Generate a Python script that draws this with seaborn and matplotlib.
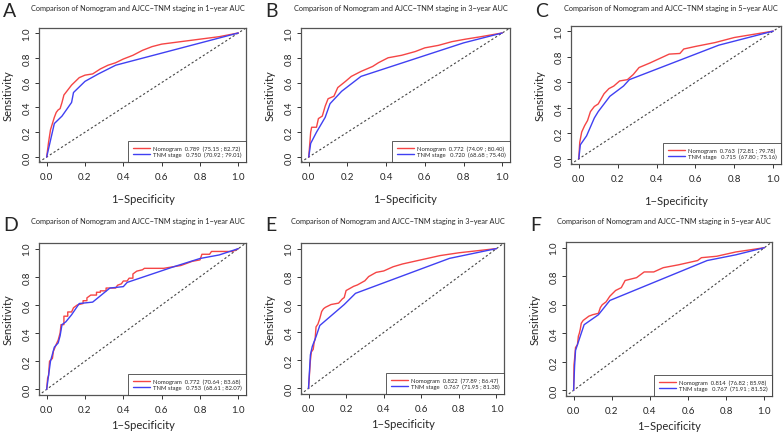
import pandas as pd
import matplotlib
matplotlib.use("Agg")
import matplotlib.pyplot as plt
import seaborn as sns
from matplotlib.lines import Line2D

# --- data: ROC points ---
# A: 1-year (training)
a_nomo_fpr = [0, 0.01, 0.02, 0.03, 0.04, 0.05, 0.06, 0.07, 0.08, 0.09, 0.11, 0.13, 0.15, 0.17, 0.20, 0.24,
              0.28, 0.32, 0.36, 0.40, 0.45, 0.50, 0.55, 0.60, 0.70, 0.80, 0.90, 1.0]
a_nomo_tpr = [0, 0.12, 0.22, 0.27, 0.32, 0.36, 0.38, 0.39, 0.44, 0.50, 0.54, 0.58, 0.61, 0.64, 0.66, 0.67,
              0.71, 0.74, 0.76, 0.79, 0.82, 0.86, 0.89, 0.91, 0.93, 0.95, 0.97, 1.0]
a_tnm_fpr = [0, 0.04, 0.08, 0.13, 0.14, 0.20, 0.27, 0.36, 1.0]
a_tnm_tpr = [0, 0.27, 0.33, 0.44, 0.52, 0.61, 0.67, 0.74, 1.0]

# B: 3-year (training)
b_nomo_fpr = [0, 0.01, 0.015, 0.04, 0.05, 0.07, 0.085, 0.10, 0.13, 0.15, 0.19, 0.22, 0.27, 0.33, 0.36, 0.41,
              0.48, 0.55, 0.60, 0.67, 0.74, 0.81, 0.89, 1.0]
b_nomo_tpr = [0, 0.20, 0.24, 0.24, 0.31, 0.33, 0.41, 0.47, 0.49, 0.56, 0.61, 0.65, 0.69, 0.73, 0.76, 0.80,
              0.82, 0.85, 0.88, 0.90, 0.93, 0.95, 0.97, 1.0]
b_tnm_fpr = [0, 0.01, 0.04, 0.085, 0.11, 0.17, 0.27, 0.80, 1.0]
b_tnm_tpr = [0, 0.11, 0.20, 0.32, 0.43, 0.53, 0.65, 0.92, 1.0]

# C: 5-year (training)
c_nomo_fpr = [0, 0.005, 0.015, 0.03, 0.045, 0.06, 0.08, 0.10, 0.13, 0.155, 0.18, 0.21, 0.25, 0.28, 0.31,
              0.365, 0.415, 0.465, 0.52, 0.54, 0.60, 0.70, 0.80, 0.90, 1.0]
c_nomo_tpr = [0, 0.13, 0.21, 0.26, 0.30, 0.37, 0.41, 0.43, 0.51, 0.55, 0.57, 0.61, 0.62, 0.66, 0.715,
              0.75, 0.785, 0.82, 0.825, 0.86, 0.88, 0.91, 0.95, 0.975, 1.0]
c_tnm_fpr = [0, 0.008, 0.04, 0.08, 0.10, 0.16, 0.23, 0.26, 0.72, 1.0]
c_tnm_tpr = [0, 0.11, 0.18, 0.32, 0.37, 0.49, 0.57, 0.62, 0.89, 1.0]

# D: 1-year (validation)
d_nomo_fpr = [0, 0.005, 0.01, 0.015, 0.03, 0.035, 0.05, 0.06, 0.07, 0.075, 0.09, 0.09, 0.11, 0.11, 0.13,
              0.14, 0.16, 0.19, 0.19, 0.21, 0.21, 0.23, 0.26, 0.26, 0.28, 0.28, 0.31, 0.31, 0.36, 0.37,
              0.39, 0.40, 0.42, 0.43, 0.45, 0.45, 0.47, 0.50, 0.51, 0.61, 0.70, 0.76, 0.80, 0.81, 0.85,
              0.86, 0.97, 1.0]
d_nomo_tpr = [0, 0.08, 0.10, 0.20, 0.22, 0.27, 0.32, 0.35, 0.40, 0.46, 0.46, 0.52, 0.52, 0.55, 0.55,
              0.58, 0.60, 0.61, 0.63, 0.63, 0.65, 0.67, 0.67, 0.69, 0.69, 0.70, 0.70, 0.72, 0.72, 0.74,
              0.75, 0.77, 0.77, 0.79, 0.79, 0.82, 0.84, 0.85, 0.86, 0.86, 0.88, 0.91, 0.92, 0.96, 0.96,
              0.98, 0.98, 1.0]
d_tnm_fpr = [0, 0.01, 0.02, 0.03, 0.04, 0.06, 0.07, 0.08, 0.10, 0.13, 0.17, 0.24, 0.33, 0.40, 0.42, 0.66,
             0.80, 0.90, 1.0]
d_tnm_tpr = [0, 0.10, 0.20, 0.25, 0.30, 0.33, 0.38, 0.46, 0.48, 0.53, 0.61, 0.62, 0.72, 0.73, 0.76, 0.87,
             0.93, 0.955, 1.0]

# E: 3-year (validation)
e_nomo_fpr = [0, 0.005, 0.01, 0.015, 0.025, 0.03, 0.035, 0.04, 0.05, 0.06, 0.07, 0.08, 0.09, 0.12, 0.16,
              0.18, 0.19, 0.20, 0.24, 0.26, 0.30, 0.32, 0.36, 0.40, 0.45, 0.50, 0.60, 0.70, 0.80, 0.90, 1.0]
e_nomo_tpr = [0, 0.10, 0.20, 0.26, 0.28, 0.33, 0.35, 0.44, 0.46, 0.50, 0.55, 0.57, 0.58, 0.60, 0.61,
              0.64, 0.65, 0.70, 0.73, 0.74, 0.77, 0.80, 0.83, 0.84, 0.87, 0.89, 0.92, 0.95, 0.97, 0.985, 1.0]
e_tnm_fpr = [0, 0.005, 0.01, 0.02, 0.04, 0.06, 0.19, 0.25, 0.75, 1.0]
e_tnm_tpr = [0, 0.12, 0.24, 0.30, 0.37, 0.45, 0.60, 0.68, 0.93, 1.0]

# F: 5-year (validation)
f_nomo_fpr = [0, 0.002, 0.005, 0.01, 0.02, 0.025, 0.03, 0.035, 0.04, 0.05, 0.07, 0.08, 0.10, 0.13, 0.14,
              0.15, 0.17, 0.19, 0.22, 0.25, 0.27, 0.30, 0.33, 0.37, 0.42, 0.47, 0.55, 0.65, 0.67, 0.75,
              0.85, 1.0]
f_nomo_tpr = [0, 0.18, 0.22, 0.30, 0.32, 0.38, 0.40, 0.43, 0.47, 0.49, 0.51, 0.52, 0.53, 0.54, 0.58,
              0.60, 0.62, 0.66, 0.70, 0.72, 0.77, 0.78, 0.79, 0.83, 0.83, 0.86, 0.88, 0.91, 0.93, 0.94,
              0.97, 1.0]
f_tnm_fpr = [0, 0.005, 0.01, 0.02, 0.04, 0.055, 0.13, 0.19, 0.70, 0.85, 1.0]
f_tnm_tpr = [0, 0.17, 0.28, 0.32, 0.40, 0.46, 0.53, 0.63, 0.91, 0.95, 1.0]

panel_letters = ["A", "B", "C", "D", "E", "F"]
panel_years = ["1", "3", "5", "1", "3", "5"]
nomo_auc = ["0.789  (75.15 ; 82.72)", "0.772  (74.09 ; 80.40)", "0.763  (72.81 ; 79.78)",
            "0.772  (70.64 ; 83.68)", "0.822  (77.89 ; 86.47)", "0.814  (76.82 ; 85.98)"]
tnm_auc = ["0.750  (70.92 ; 79.01)", "0.720  (68.68 ; 75.40)", "0.715  (67.80 ; 75.16)",
           "0.753  (68.61 ; 82.07)", "0.767  (71.95 ; 81.38)", "0.767  (71.91 ; 81.52)"]

nomo_curves = [(a_nomo_fpr, a_nomo_tpr), (b_nomo_fpr, b_nomo_tpr), (c_nomo_fpr, c_nomo_tpr),
               (d_nomo_fpr, d_nomo_tpr), (e_nomo_fpr, e_nomo_tpr), (f_nomo_fpr, f_nomo_tpr)]
tnm_curves = [(a_tnm_fpr, a_tnm_tpr), (b_tnm_fpr, b_tnm_tpr), (c_tnm_fpr, c_tnm_tpr),
              (d_tnm_fpr, d_tnm_tpr), (e_tnm_fpr, e_tnm_tpr), (f_tnm_fpr, f_tnm_tpr)]

# axes boxes in pixels (left, right, top, bottom)
boxes = [(39, 246, 29, 163), (301, 510, 29, 163), (571, 781, 27, 165),
         (39, 246, 244, 396), (301, 504, 244, 395), (566, 772, 243, 397)]
title_y = [8, 8, 8, 222, 222, 222]
letter_y = [3, 3, 3, 217, 217, 217]

RED = "#f54545"
BLUE = "#4040f2"
W, H = 784, 435

sns.set_style("white")
plt.rcParams['font.family'] = ['Lato', 'DejaVu Sans']

fig = plt.figure(figsize=(W / 100, H / 100), dpi=100)

for i in range(6):
    l, r, t, b = boxes[i]
    ax = fig.add_axes([l / W, 1 - b / H, (r - l) / W, (b - t) / H])

    df = pd.concat([
        pd.DataFrame({"fpr": nomo_curves[i][0], "tpr": nomo_curves[i][1], "model": "Nomogram"}),
        pd.DataFrame({"fpr": tnm_curves[i][0], "tpr": tnm_curves[i][1], "model": "TNM stage"}),
    ])
    ax.plot([-0.1, 1.1], [-0.1, 1.1], ls=(0, (2, 2)), color="#444444", lw=0.8)
    sns.lineplot(data=df, x="fpr", y="tpr", hue="model", palette=[RED, BLUE],
                 sort=False, estimator=None, lw=1.0, ax=ax, legend=False)

    ax.set_xlim(-0.04, 1.04)
    ax.set_ylim(-0.04, 1.04)
    ticks = [0.0, 0.2, 0.4, 0.6, 0.8, 1.0]
    ax.set_xticks(ticks)
    ax.set_yticks(ticks)
    ax.set_xticklabels([f"{v:.1f}" for v in ticks], fontsize=7)
    ax.set_yticklabels([f"{v:.1f}" for v in ticks], fontsize=7, rotation=90, va="center")
    ax.tick_params(axis="both", direction="out", length=3, width=0.7, color="#333333",
                   bottom=True, left=True)
    ax.tick_params(axis="x", pad=4.5)
    ax.tick_params(axis="y", pad=2.5)
    ax.set_xlabel("1\u2212Specificity", fontsize=8, labelpad=8 if i < 3 else 3)
    ax.set_ylabel("Sensitivity", fontsize=8, labelpad=6)
    for s in ax.spines.values():
        s.set_color("#555555")
        s.set_linewidth(0.9)

    fig.text(((l + r) / 2 - 5) / W, 1 - title_y[i] / H,
             f"Comparison of Nomogram and AJCC\u2212TNM staging in {panel_years[i]}\u2212year AUC",
             fontsize=5.3, ha="center", va="center")
    fig.text((l - 36) / W, 1 - letter_y[i] / H, panel_letters[i], fontsize=14, ha="left", va="top")

    handles = [Line2D([0], [0], color=RED, lw=1.0), Line2D([0], [0], color=BLUE, lw=1.0)]
    labels = ["Nomogram  " + nomo_auc[i], "TNM stage   " + tnm_auc[i]]
    leg = ax.legend(handles, labels, loc="lower right", fontsize=4.2, frameon=True, fancybox=False,
                    borderaxespad=0, handlelength=3, borderpad=0.8, labelspacing=0.15,
                    handletextpad=0.4)
    leg.get_frame().set_edgecolor("#333333")
    leg.get_frame().set_linewidth(0.7)

fig.savefig("out.png", dpi=100, facecolor="white")
